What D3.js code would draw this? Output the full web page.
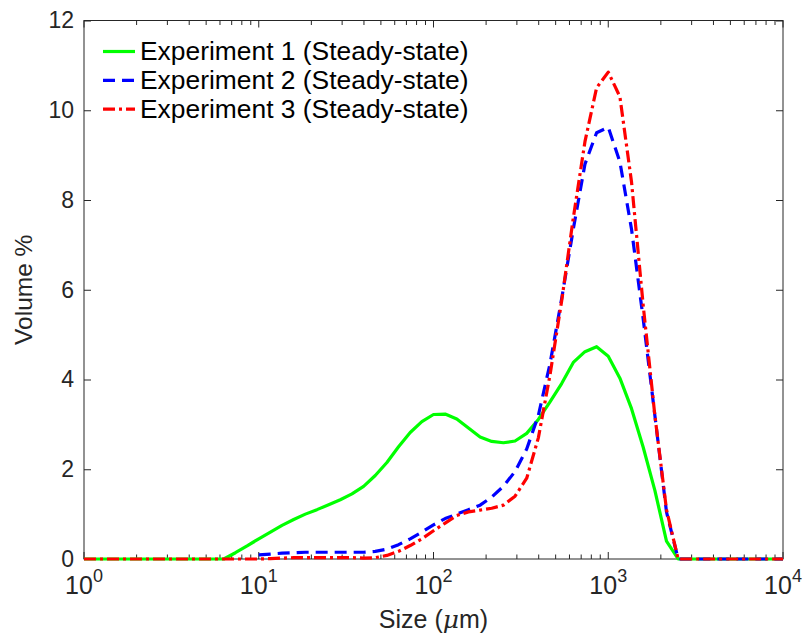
<!DOCTYPE html>
<html>
<head>
<meta charset="utf-8">
<script src="https://cdn.jsdelivr.net/npm/d3@7"></script>
<style>
  body { margin: 0; background: #fff; }
  text { font-family: 'Liberation Sans', Arial, Helvetica, sans-serif; }
</style>
</head>
<body>
<div id="chart"></div>
<script>
// particle sizes (um), log spaced bins
const sizes = [1, 1.166, 1.359, 1.585, 1.848, 2.154, 2.512, 2.929, 3.415, 3.981,
  4.642, 5.412, 6.31, 7.356, 8.577, 10, 11.66, 13.59, 15.85, 18.48,
  21.54, 25.12, 29.29, 34.15, 39.81, 46.42, 54.12, 63.1, 73.56, 85.77,
  100, 116.6, 135.9, 158.5, 184.8, 215.4, 251.2, 292.9, 341.5, 398.1,
  464.2, 541.2, 631, 735.6, 857.7, 1000, 1166, 1359, 1585, 1848,
  2154, 2512, 2929, 3415, 3981, 4642, 5412, 6310, 7356, 8577, 10000]

const exp1 = [0, 0, 0, 0, 0, 0, 0, 0, 0, 0,
  0, 0, 0, 0.14, 0.29, 0.45, 0.60, 0.75, 0.88, 1.00,
  1.10, 1.21, 1.32, 1.45, 1.62, 1.86, 2.15, 2.50, 2.82, 3.06,
  3.22, 3.23, 3.12, 2.92, 2.72, 2.62, 2.59, 2.63, 2.80, 3.11,
  3.50, 3.91, 4.38, 4.62, 4.73, 4.52, 4.03, 3.35, 2.49, 1.53,
  0.40, 0, 0, 0, 0, 0, 0, 0, 0, 0, 0]

const exp2 = [null, null, null, null, null, null, null, null, null, null,
  null, null, null, null, null, 0.09, 0.11, 0.13, 0.14, 0.15,
  0.15, 0.15, 0.15, 0.15, 0.15, 0.17, 0.22, 0.32, 0.45, 0.60,
  0.76, 0.90, 1.00, 1.10, 1.20, 1.38, 1.62, 1.95, 2.45, 3.20,
  4.35, 5.80, 7.35, 8.80, 9.50, 9.62, 8.85, 7.35, 5.35, 3.20,
  1.05, 0, 0, 0, 0, 0, 0, 0, 0, 0, 0]

const exp3 = [0, 0, 0, 0, 0, 0, 0, 0, 0, 0,
  0, 0, 0, 0, 0, 0, 0.01, 0.02, 0.03, 0.03,
  0.03, 0.03, 0.03, 0.03, 0.02, 0.03, 0.08, 0.17, 0.30, 0.45,
  0.63, 0.80, 0.97, 1.05, 1.09, 1.13, 1.20, 1.40, 1.80, 2.70,
  4.10, 5.75, 7.60, 9.30, 10.50, 10.85, 10.30, 8.40, 5.65, 3.20,
  1.10, 0, 0, 0, 0, 0, 0, 0, 0, 0, 0]

const seriesNames = ['Experiment 1 (Steady-state)', 'Experiment 2 (Steady-state)', 'Experiment 3 (Steady-state)']
const xTickValues = [1, 10, 100, 1000, 10000]
const yTickValues = [0, 2, 4, 6, 8, 10, 12]

const margin = { top: 20.5, left: 84, right: 21, bottom: 75 }
const width = 804 - margin.left - margin.right
const height = 634 - margin.top - margin.bottom
const axisColor = '#262626'

const svg = d3
  .select('#chart')
  .append('svg')
  .attr('width', 804)
  .attr('height', 634)
  .append('g')
  .attr('transform', 'translate(' + margin.left + ',' + margin.top + ')')

const xPositionScale = d3.scaleLog().domain([1, 10000]).range([0, width])
const yPositionScale = d3.scaleLinear().domain([0, 12]).range([height, 0])

// box + inward ticks
const minorTicks = xPositionScale.ticks()
const majorTick = d => xTickValues.includes(d)

function xAxis(g, top) {
  g.selectAll('line.tk')
    .data(minorTicks)
    .enter()
    .append('line')
    .attr('class', 'tk')
    .attr('x1', d => xPositionScale(d))
    .attr('x2', d => xPositionScale(d))
    .attr('y1', top ? 0 : height)
    .attr('y2', d => {
      const len = majorTick(d) ? 7 : 4.5
      return top ? len : height - len
    })
    .attr('stroke', axisColor)
    .attr('stroke-width', 1)
}
xAxis(svg.append('g'), false)
xAxis(svg.append('g'), true)

svg.append('g')
  .call(d3.axisLeft(yPositionScale).tickValues(yTickValues).tickSizeInner(-7).tickSizeOuter(0).tickPadding(10))
  .call(g => g.select('.domain').remove())
  .call(g => g.selectAll('line').attr('stroke', axisColor))
  .call(g => g.selectAll('text').attr('fill', axisColor).attr('font-size', '23px')
    .style('font-family', "'Liberation Sans', Arial, sans-serif"))

svg.append('g')
  .attr('transform', 'translate(' + width + ',0)')
  .call(d3.axisRight(yPositionScale).tickValues(yTickValues).tickSizeInner(-7).tickSizeOuter(0).tickFormat(''))
  .call(g => g.select('.domain').remove())
  .call(g => g.selectAll('line').attr('stroke', axisColor))

svg.append('rect')
  .attr('width', width)
  .attr('height', height)
  .attr('fill', 'none')
  .attr('stroke', axisColor)
  .attr('stroke-width', 1)

// x tick labels as 10^n
const xLabels = svg.append('g')
  .selectAll('text')
  .data(xTickValues)
  .enter()
  .append('text')
  .attr('x', d => xPositionScale(d))
  .attr('y', height + 35)
  .attr('text-anchor', 'middle')
  .attr('fill', axisColor)
  .attr('font-size', '25px')
xLabels.append('tspan').text('10')
xLabels.append('tspan')
  .attr('dy', -12)
  .attr('font-size', '18px')
  .text(d => Math.round(Math.log10(d)))

// lines
const line = d3.line()
  .defined(d => d[1] !== null)
  .x(d => xPositionScale(d[0]))
  .y(d => yPositionScale(d[1]))

const series = [
  { values: exp1, color: '#00ff00', dash: null },
  { values: exp2, color: '#0000ff', dash: '12,7' },
  { values: exp3, color: '#ff0000', dash: '12,4,3,4' }
]

series.forEach(s => {
  svg.append('path')
    .datum(sizes.map((x, i) => [x, s.values[i]]))
    .attr('d', line)
    .attr('fill', 'none')
    .attr('stroke', s.color)
    .attr('stroke-width', 3.2)
    .attr('stroke-dasharray', s.dash)
    .attr('stroke-linejoin', 'round')
})

// legend
const legend = svg.append('g').attr('transform', 'translate(19,31)')
series.forEach((s, i) => {
  const row = legend.append('g').attr('transform', 'translate(0,' + i * 28.8 + ')')
  row.append('line')
    .attr('x1', 0)
    .attr('x2', 32)
    .attr('stroke', s.color)
    .attr('stroke-width', 3.2)
    .attr('stroke-dasharray', s.dash)
  row.append('text')
    .attr('x', 37)
    .attr('y', 8.5)
    .attr('font-size', '26.4px')
    .attr('fill', '#000')
    .text(seriesNames[i])
})

// axis labels
const xLab = svg.append('text')
  .attr('x', width / 2)
  .attr('y', height + 69)
  .attr('text-anchor', 'middle')
  .attr('font-size', '25px')
  .attr('fill', axisColor)
xLab.append('tspan').text('Size (')
xLab.append('tspan').attr('font-style', 'italic').attr('font-family', "'DejaVu Serif', serif").text('\u03bc')
xLab.append('tspan').text('m)')

svg.append('text')
  .attr('transform', 'translate(-52,' + height / 2 + ') rotate(-90)')
  .attr('text-anchor', 'middle')
  .attr('font-size', '24.5px')
  .attr('fill', axisColor)
  .text('Volume %')
</script>
</body>
</html>
